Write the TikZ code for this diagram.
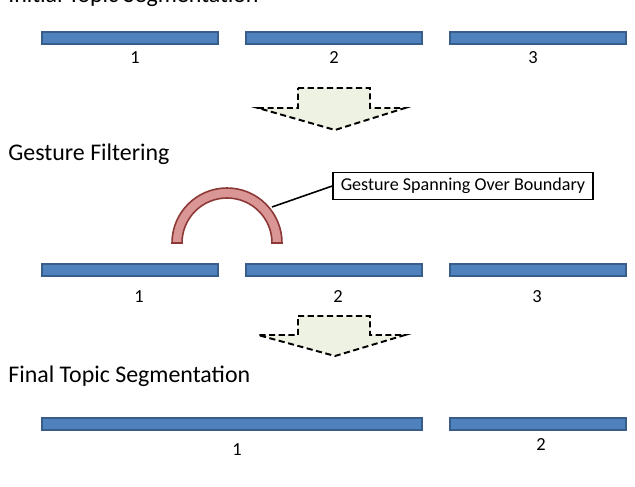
\documentclass[tikz,border=0pt]{standalone}
\usepackage{fontspec}
\setmainfont{Carlito}
\definecolor{barblue}{HTML}{4F81BD}
\definecolor{barline}{HTML}{385D8A}
\definecolor{arcfill}{HTML}{D99694}
\definecolor{arcline}{HTML}{8C3836}
\definecolor{stepfill}{HTML}{EEF2E2}
\begin{document}
\begin{tikzpicture}[
		bar/.style={draw=barline, fill=barblue, line width=0.6pt, rectangle, minimum width=3.52cm, minimum height=0.24cm, inner sep=0pt},
		longbar/.style={bar, minimum width=7.6cm},
		num/.style={font=\fontsize{10.5}{12}\selectfont, inner sep=0pt},
		heading/.style={font=\fontsize{13.6}{16}\selectfont, anchor=base west, inner sep=0pt},
		blockarrow/.style={draw=black, fill=stepfill, dash pattern=on 3.5pt off 2pt, line width=1.1pt, line join=miter},
		callout/.style={draw, rectangle, line width=0.8pt, minimum width=5.2cm, minimum height=0.52cm, font=\fontsize{10.3}{12}\selectfont},
	]
	\useasboundingbox (0,0) rectangle (12.7,9.72);
	% initial segmentation
	\node[heading] (t1) at (0.16,9.66) {Initial Topic Segmentation};
	\node[bar] (a1) at (2.6,8.96) {};
	\node[bar] (a2) at (6.68,8.96) {};
	\node[bar] (a3) at (10.76,8.96) {};
	\node[num] (la1) at (2.7,8.56) {1};
	\node[num] (la2) at (6.68,8.56) {2};
	\node[num] (la3) at (10.66,8.56) {3};
	\draw[blockarrow] (5.96,7.96) -- (7.4,7.96) -- (7.4,7.56) -- (8.1,7.56) -- (6.7,7.12) -- (5.16,7.56) -- (5.96,7.56) -- cycle;
	% gesture filtering
	\node[heading] (t2) at (0.16,6.52) {Gesture Filtering};
	\draw[fill=arcfill, draw=arcline, line width=0.9pt] (3.44,4.86) arc[start angle=180, end angle=0, radius=1.1] -- (5.44,4.86) arc[start angle=0, end angle=180, radius=0.9] -- cycle;
	\coordinate (gtip) at (5.44,5.58);
	\node[callout] (gbox) at (9.26,6.0) {Gesture Spanning Over Boundary};
	\draw[line width=0.9pt] (gtip) -- (gbox.west);
	\node[bar] (b1) at (2.6,4.32) {};
	\node[bar] (b2) at (6.68,4.32) {};
	\node[bar] (b3) at (10.76,4.32) {};
	\node[num] (lb1) at (2.78,3.78) {1};
	\node[num] (lb2) at (6.76,3.78) {2};
	\node[num] (lb3) at (10.74,3.78) {3};
	\draw[blockarrow] (5.96,3.4) -- (7.4,3.4) -- (7.4,3.02) -- (8.1,3.02) -- (6.7,2.6) -- (5.16,3.02) -- (5.96,3.02) -- cycle;
	% final segmentation
	\node[heading] (t3) at (0.16,2.08) {Final Topic Segmentation};
	\node[longbar] (c1) at (4.64,1.24) {};
	\node[bar] (c2) at (10.76,1.24) {};
	\node[num] (lc1) at (4.74,0.72) {1};
	\node[num] (lc2) at (10.82,0.82) {2};
\end{tikzpicture}
\end{document}
